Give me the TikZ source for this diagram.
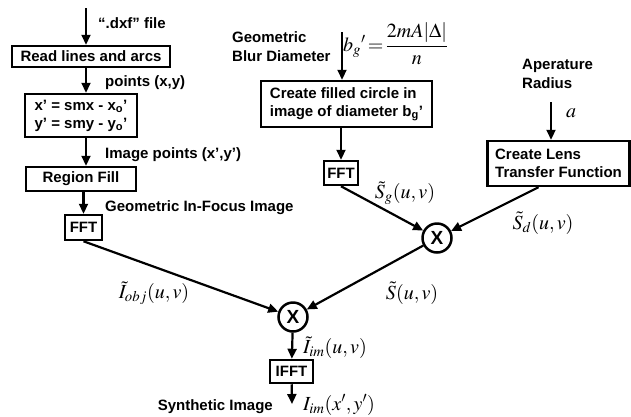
\documentclass[tikz,border=0pt]{standalone}
\usepackage{mathptmx}
\usepackage[no-math]{fontspec}
\setmainfont{Liberation Sans}
\usetikzlibrary{arrows.meta,calc}
\begin{document}
\begin{tikzpicture}[x=1pt,y=-1pt,
  box/.style={draw, line width=2.5pt, inner sep=0pt, font=\fontsize{15}{18}\selectfont\bfseries},
  mul/.style={draw, circle, line width=2.5pt, minimum size=29pt, inner sep=0pt, font=\fontsize{19}{19}\selectfont\bfseries},
  arr/.style={line width=2.2pt, -{Triangle[length=10pt,width=9pt]}},
  lbl/.style={inner sep=0pt, font=\fontsize{15}{18.5}\selectfont\bfseries},
  ml/.style={inner sep=0pt, font=\fontsize{20}{22}\selectfont}]
\useasboundingbox (0,0) rectangle (631,416);
% boxes
\node[box, minimum width=158pt, minimum height=21pt] (read) at (91,56.5) {Read lines and arcs};
\node[box, minimum width=112pt, minimum height=43pt, align=left] (eq) at (81,115.5) {x' = smx - x\textsubscript{o}'\\y' = smy - y\textsubscript{o}'};
\node[box, minimum width=110pt, minimum height=24pt] (region) at (81,179) {Region Fill};
\node[box, minimum width=37pt, minimum height=25pt] (fft1) at (83.5,227.5) {FFT};
\node[box, minimum width=171pt, minimum height=46pt, align=left] (blur) at (346.5,104) {Create filled circle in\\image of diameter b\textsubscript{g}'};
\node[box, minimum width=34pt, minimum height=24pt] (fft2) at (341,173) {FFT};
\node[box, minimum width=142pt, minimum height=45pt, align=left] (lens) at (558.5,163.5) {Create Lens\\Transfer Function};
\node[mul] (mulA) at (437,238) {X};
\node[mul] (mulB) at (293,317) {X};
\node[box, minimum width=43pt, minimum height=23pt] (ifft) at (291.5,371.5) {IFFT};
% free ends
\coordinate (in1) at (86,8);
\coordinate (in2) at (342,32);
\coordinate (in3) at (551,102);
\coordinate (out) at (292,404);
% connectors
\draw[arr] (in1) -- (in1 |- read.north);
\draw[arr] (read.south -| in1) -- (eq.north -| in1);
\draw[arr] (eq.south -| in1) -- (region.north -| in1);
\draw[arr] (region.south -| fft1) -- (fft1.north);
\draw[arr] (fft1.south) -- (mulB);
\draw[arr] (in2) -- (in2 |- blur.north);
\draw[arr] (blur.south -| fft2) -- (fft2.north);
\draw[arr] (fft2.south) -- (mulA);
\draw[arr] (in3) -- (in3 |- lens.north);
\draw[arr] ($(lens.south)+(-20,0)$) -- (mulA);
\draw[arr] (mulA) -- (mulB);
\draw[arr] (mulB) -- (ifft);
\draw[arr] (ifft) -- (out);
% labels
\node[lbl, anchor=west] (ldxf) at (98,23) {``.dxf'' file};
\node[lbl, anchor=west] (lpts) at (105,83) {points (x,y)};
\node[lbl, anchor=west] (limg) at (105,155) {Image points (x',y')};
\node[lbl, anchor=west] (lgeo) at (105,208) {Geometric In-Focus Image};
\node[lbl, anchor=west, align=left] (lblur) at (232,46.5) {Geometric\\Blur Diameter};
\node[lbl, anchor=west, align=left] (lap) at (522,74) {Aperature\\Radius};
\node[ml, anchor=west] (la) at (566,113) {$a$};
\node[ml, anchor=west] (lbg) at (343,44) {$b_g{}'\!=\!\displaystyle\frac{2mA|\Delta|}{n}$};
\node[ml] (lsg) at (405,193) {$\tilde{S}_g(u,v)$};
\node[ml] (lsd) at (543,223) {$\tilde{S}_d(u,v)$};
\node[ml] (ls) at (412,293) {$\tilde{S}(u,v)$};
\node[ml] (lobj) at (154,293) {$\tilde{I}_{obj}(u,v)$};
\node[ml, anchor=west] (lim) at (303,348) {$\tilde{I}_{im}(u,v)$};
\node[ml, anchor=west] (lout) at (303,405) {$I_{im}(x',y')$};
\node[lbl, anchor=east] (lsyn) at (273,407) {Synthetic Image};
\end{tikzpicture}
\end{document}
